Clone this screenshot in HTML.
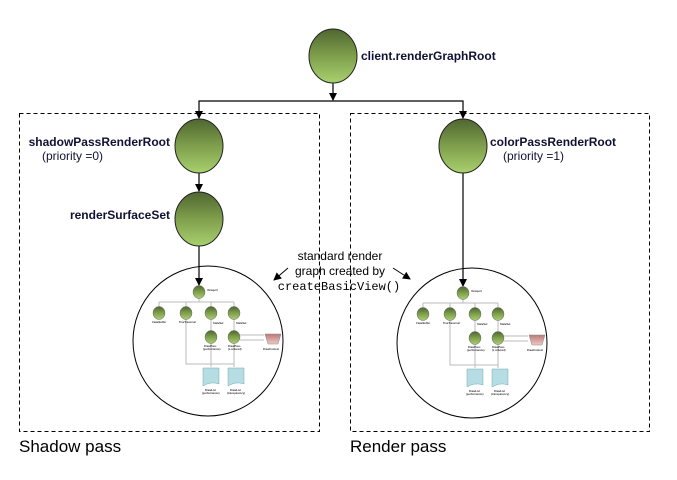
<!DOCTYPE html>
<html><head><meta charset="utf-8"><style>
html,body{margin:0;padding:0;background:#fff;}
svg{display:block;font-family:"Liberation Sans",Arial,sans-serif;}
</style></head><body>
<svg width="677" height="480" viewBox="0 0 677 480" xmlns="http://www.w3.org/2000/svg">
<defs>
<linearGradient id="g" x1="0" y1="0" x2="0" y2="1">
<stop offset="0" stop-color="#4f6630"/><stop offset="0.5" stop-color="#7f9f4c"/><stop offset="1" stop-color="#a9d06e"/>
</linearGradient>
<linearGradient id="pk" x1="0" y1="0" x2="0" y2="1"><stop offset="0" stop-color="#b87a78"/><stop offset="1" stop-color="#f3c8c4"/></linearGradient>
<marker id="a" markerWidth="8" markerHeight="8" refX="7" refY="4" orient="auto" markerUnits="userSpaceOnUse"><path d="M0,0 L8,4 L0,8z" fill="#000"/></marker>
<g id="tree">
<g stroke="#bbb" stroke-width="1" fill="none">
<line x1="199" y1="298" x2="199" y2="302"/>
<line x1="159" y1="302" x2="234" y2="302"/>
<line x1="159" y1="302" x2="159" y2="307"/><line x1="186" y1="302" x2="186" y2="307"/>
<line x1="211" y1="302" x2="211" y2="307"/><line x1="234" y1="302" x2="234" y2="307"/>
<line x1="211" y1="319" x2="211" y2="331"/><line x1="234" y1="319" x2="234" y2="331"/>
<polyline points="186,319 186,364 234,364"/>
<line x1="211" y1="343" x2="211" y2="367"/><line x1="234" y1="343" x2="234" y2="367"/>
<line x1="240" y1="335" x2="264" y2="335"/><line x1="240" y1="340" x2="264" y2="340"/>
</g>
<g fill="url(#g)" stroke="#666" stroke-width="0.5">
<ellipse cx="199" cy="292" rx="6" ry="6.5"/>
<ellipse cx="159" cy="313" rx="6" ry="6.5"/><ellipse cx="186" cy="313" rx="6" ry="6.5"/>
<ellipse cx="211" cy="313" rx="6" ry="6.5"/><ellipse cx="234" cy="313" rx="6" ry="6.5"/>
<ellipse cx="211" cy="337" rx="6" ry="6.5"/><ellipse cx="234" cy="337" rx="6" ry="6.5"/>
</g>
<path d="M265,334 L281,334 L278,344 L268,344z" fill="url(#pk)" stroke="#888" stroke-width="0.5"/>
<path d="M203,368 L219,368 L219,384 Q211,381 203,386z" fill="#b6dde4" stroke="#7aa" stroke-width="0.5"/>
<path d="M228,368 L244,368 L244,384 Q236,381 228,386z" fill="#b6dde4" stroke="#7aa" stroke-width="0.5"/>
<g font-size="2.6" fill="#333" font-weight="bold">
<text x="207" y="291">Viewport</text>
<text x="152" y="323">ClearBuffer</text><text x="179" y="323">TreeTraversal</text>
<text x="213" y="324">StateSet</text><text x="236" y="324">StateSet</text>
<text x="204" y="347">DrawPass</text><text x="203" y="350">(performance)</text>
<text x="228" y="347">DrawPass</text><text x="228" y="350">(z-ordered)</text>
<text x="263" y="350">DrawContext</text>
<text x="205" y="391">DrawList</text><text x="202" y="394">(performance)</text>
<text x="230" y="391">DrawList</text><text x="227" y="394">(transparency)</text>
</g>
</g>
</defs>
<g fill="none" stroke="#000" stroke-width="1" stroke-dasharray="4,3">
<rect x="19.5" y="113.5" width="300" height="318"/>
<rect x="350.5" y="113.5" width="299" height="318"/>
</g>
<g stroke="#000" stroke-width="1.2" fill="none">
<line x1="333" y1="83" x2="333" y2="100" marker-end="url(#a)"/>
<polyline points="463,116 463,101 199,101 199,118" marker-end="url(#a)"/>
<line x1="463" y1="112" x2="463" y2="118" marker-end="url(#a)"/>
<line x1="199" y1="173" x2="199" y2="191" marker-end="url(#a)"/>
<line x1="199" y1="246" x2="199" y2="285" marker-end="url(#a)"/>
<line x1="463" y1="173" x2="463" y2="286" marker-end="url(#a)"/>
<line x1="288" y1="268" x2="274" y2="280" stroke-width="1" marker-end="url(#a)"/>
<line x1="393" y1="268" x2="410" y2="279" stroke-width="1" marker-end="url(#a)"/>
</g>
<circle cx="208" cy="341" r="75" fill="none" stroke="#000" stroke-width="1"/>
<circle cx="472" cy="343" r="75" fill="none" stroke="#000" stroke-width="1"/>
<use href="#tree"/>
<use href="#tree" transform="translate(264,1)"/>
<g fill="url(#g)" stroke="#222" stroke-width="1">
<ellipse cx="333" cy="56" rx="24" ry="27"/>
<ellipse cx="199" cy="146" rx="24" ry="27"/>
<ellipse cx="199" cy="219" rx="24" ry="27"/>
<ellipse cx="463" cy="146" rx="24" ry="27"/>
</g>
<g font-size="12" fill="#111133">
<text x="361" y="60" font-weight="bold">client.renderGraphRoot</text>
<text x="170" y="146" font-weight="bold" text-anchor="end">shadowPassRenderRoot</text>
<text x="42" y="160">(priority =0)</text>
<text x="170" y="219" font-weight="bold" text-anchor="end">renderSurfaceSet</text>
<text x="490" y="146" font-weight="bold">colorPassRenderRoot</text>
<text x="503" y="160">(priority =1)</text>
</g>
<g font-size="12" fill="#000" text-anchor="middle">
<text x="340" y="260">standard render</text>
<text x="340" y="275">graph created by</text>
<text x="339" y="290" font-family="'Liberation Mono',monospace" font-size="12">createBasicView()</text>
</g>
<text x="19" y="452" font-size="17" fill="#000">Shadow pass</text>
<text x="350" y="452" font-size="17" fill="#000">Render pass</text>
</svg>
</body></html>
